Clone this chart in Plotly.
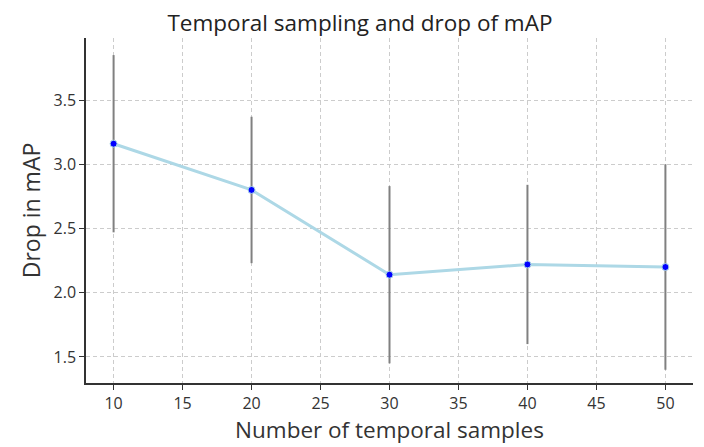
import plotly.graph_objects as go

samples = [10, 20, 30, 40, 50]
drop_map = [3.16, 2.80, 2.14, 2.22, 2.20]
drop_err = [0.69, 0.57, 0.69, 0.62, 0.80]

fig = go.Figure()
fig.add_trace(go.Scatter(
    x=samples, y=drop_map, mode="lines+markers",
    line=dict(color="lightblue", width=3),
    marker=dict(color="blue", size=7, line=dict(color="lightblue", width=1)),
    error_y=dict(type="data", array=drop_err, visible=True, color="gray", thickness=2, width=0),
    showlegend=False,
))

font = "Open Sans"
fig.update_layout(
    width=696, height=439,
    margin=dict(l=78, r=11, t=30, b=64, autoexpand=False),
    paper_bgcolor="white", plot_bgcolor="white",
    font=dict(family=font, color="#333333"),
    title=dict(text="Temporal sampling and drop of mAP", x=0.5057, xanchor="center",
               y=0.966, yanchor="middle", font=dict(size=22.5, color="#222222")),
)
axis_common = dict(
    showline=True, linecolor="#333333", linewidth=1.5,
    ticks="outside", ticklen=5, tickcolor="#333333", tickwidth=1,
    showgrid=True, gridcolor="#cccccc", griddash="4px,3px", gridwidth=1,
    zeroline=False, tickfont=dict(size=16, color="#333333"),
    mirror=False, automargin=False,
)
fig.update_xaxes(range=[8, 52], tickvals=[10, 15, 20, 25, 30, 35, 40, 45, 50],
                 title=dict(text="Number of temporal samples", font=dict(size=22.5), standoff=4),
                 **axis_common)
fig.update_yaxes(range=[1.297, 3.983], tickvals=[1.5, 2.0, 2.5, 3.0, 3.5], tickformat=".1f",
                 title=dict(text="Drop in mAP", font=dict(size=23), standoff=6),
                 **axis_common)
fig.write_html("out.html")
